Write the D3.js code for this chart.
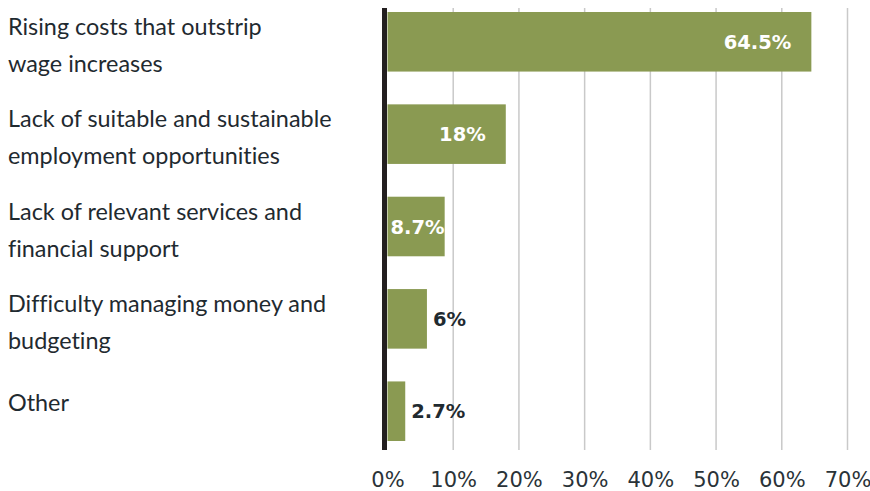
<!DOCTYPE html>
<html>
<head>
<meta charset="utf-8">
<script src="https://cdn.jsdelivr.net/npm/d3@7"></script>
<style>
  body { margin: 0; background: #fff; }
  svg { display: block; }
</style>
</head>
<body>
<div id="chart"></div>
<script>
// categories (each one split into lines for the left labels)
var categories = [
    ["Rising costs that outstrip", "wage increases"],
    ["Lack of suitable and sustainable", "employment opportunities"],
    ["Lack of relevant services and", "financial support"],
    ["Difficulty managing money and", "budgeting"],
    ["Other"]
];
var values = [64.5, 18, 8.7, 6, 2.7];
var valueLabels = ["64.5%", "18%", "8.7%", "6%", "2.7%"];
var tickValues = [0, 10, 20, 30, 40, 50, 60, 70];

var width = 870;
var height = 491;

var svg = d3.select('#chart')
    .append('svg')
    .attr('width', width)
    .attr('height', height);

var data = categories.map(function(c, i) {
    return { lines: c, value: values[i], label: valueLabels[i], key: i };
});

// scales
var xscale = d3.scaleLinear()
    .domain([0, 70])
    .range([387.5, 847.5]);

var yscale = d3.scaleBand()
    .domain(data.map(function(d) { return d.key; }))
    .range([12, 441])
    .paddingInner(0.355)
    .paddingOuter(0);

// gridlines
svg.append("g")
    .selectAll("line")
    .data(tickValues.slice(1))
    .enter()
    .append("line")
    .attr("x1", d => xscale(d))
    .attr("x2", d => xscale(d))
    .attr("y1", 8)
    .attr("y2", 450)
    .attr("stroke", "#c9c9c9")
    .attr("stroke-width", 1.5);

// bars
svg.selectAll('rect.bar')
    .data(data)
    .enter()
    .append('rect')
    .attr("class", "bar")
    .attr("x", xscale(0))
    .attr("y", d => yscale(d.key))
    .attr("width", d => xscale(d.value) - xscale(0))
    .attr("height", yscale.bandwidth())
    .attr("fill", "#8a9a52");

// axis line at zero
svg.append("line")
    .attr("x1", xscale(0) - 3)
    .attr("x2", xscale(0) - 3)
    .attr("y1", 8)
    .attr("y2", 450)
    .attr("stroke", "#231f20")
    .attr("stroke-width", 5);

// x axis tick labels
var xaxis = d3.axisBottom(xscale)
    .tickValues(tickValues)
    .tickFormat(d => d + "%")
    .tickSize(0)
    .tickPadding(0);

var gx = svg.append("g")
    .call(xaxis);
gx.select(".domain").remove();
gx.selectAll("text")
    .attr("y", 487)
    .attr("dy", 0)
    .style("font-family", "'DejaVu Sans', sans-serif")
    .style("font-size", "21px")
    .style("fill", "#2a3338");

// left category labels
var labels = svg.selectAll("text.cat")
    .data(data)
    .enter()
    .append("text")
    .attr("class", "cat")
    .attr("x", 8)
    .style("font-family", "Lato, sans-serif")
    .style("font-size", "23.4px")
    .style("font-variant-ligatures", "none")
    .style("fill", "#1f2a30");

labels.each(function(d) {
    var cy = yscale(d.key) + yscale.bandwidth() / 2;
    var t = d3.select(this);
    if (d.lines.length === 1) {
        t.append("tspan").attr("x", 8).attr("y", cy).text(d.lines[0]);
    } else {
        t.append("tspan").attr("x", 8).attr("y", cy - 7).text(d.lines[0]);
        t.append("tspan").attr("x", 8).attr("y", cy + 30).text(d.lines[1]);
    }
});

// value labels: inside the bar (white) for the wider bars, outside otherwise
var vtext = svg.selectAll("text.val")
    .data(data)
    .enter()
    .append("text")
    .attr("class", "val")
    .attr("y", d => yscale(d.key) + yscale.bandwidth() / 2)
    .attr("dy", "0.36em")
    .style("font-family", "'DejaVu Sans', sans-serif")
    .style("font-weight", "bold")
    .style("font-size", "19.5px")
    .text(d => d.label);

vtext.each(function(d) {
    var t = d3.select(this);
    var w = this.getComputedTextLength();
    if (d.value >= 8) {
        var xEnd = Math.max(xscale(d.value) - 20, xscale(0) + 3 + w);
        t.attr("x", xEnd).attr("text-anchor", "end").style("fill", "#ffffff");
    } else {
        t.attr("x", xscale(d.value) + 6).attr("text-anchor", "start").style("fill", "#1f2a30");
    }
});
</script>
</body>
</html>
